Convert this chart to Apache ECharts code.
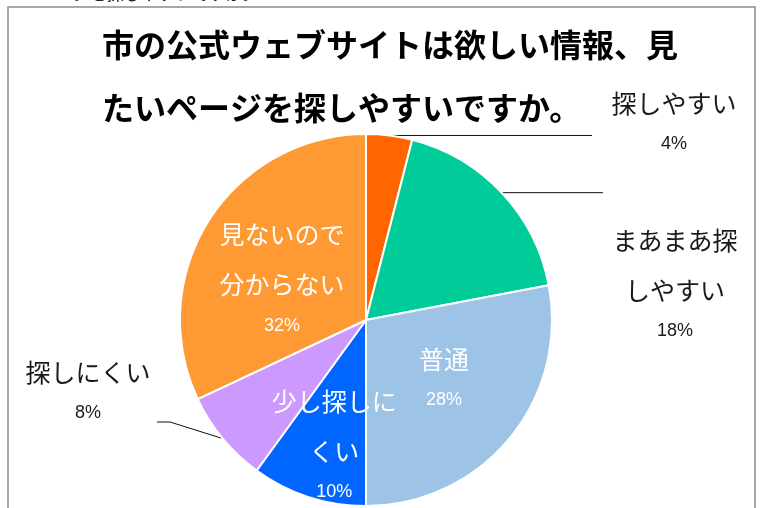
<!DOCTYPE html>
<html>
<head>
<meta charset="utf-8">
<script src="https://cdn.jsdelivr.net/npm/echarts@6/dist/echarts.min.js"></script>
<style>
html, body { margin: 0; padding: 0; background: #fff; }
#chart { width: 765px; height: 508px; }
</style>
</head>
<body>
<div id="chart"></div>
<script>
// 回答の項目と割合(%)
const names = ['探しやすい', 'まあまあ探\nしやすい', '普通', '少し探しに\nくい', '探しにくい', '見ないので\n分からない']
const values = [4, 18, 28, 10, 8, 32]
const colors = ['#FF6600', '#00CC99', '#9DC3E6', '#0066FF', '#CC99FF', '#FF9933']
const insideLabel = [false, false, true, true, false, true]

const jp = '"Noto Sans CJK JP", sans-serif'
const latin = '"Liberation Sans", Arial, sans-serif'

const chart = echarts.init(document.getElementById('chart'))

const data = names.map((n, i) => ({
  name: n,
  value: values[i],
  itemStyle: { color: colors[i] },
  label: insideLabel[i] ? {
    position: 'inside',
    rich: {
      n: { fontFamily: jp, fontSize: 25, color: '#fff', lineHeight: 50 },
      p: { fontFamily: latin, fontSize: 18, color: '#fff', lineHeight: 32 }
    }
  } : {
    position: 'outside',
    rich: {
      n: { fontFamily: jp, fontSize: 25, color: '#1a1a1a', lineHeight: 50 },
      p: { fontFamily: latin, fontSize: 18, color: '#1a1a1a', lineHeight: 32 }
    }
  }
}))

chart.setOption({
  animation: false,
  backgroundColor: '#fff',
  title: {
    text: '市の公式ウェブサイトは欲しい情報、見\nたいページを探しやすいですか。',
    left: 102,
    top: 13,
    padding: 0,
    textStyle: {
      fontFamily: jp,
      fontSize: 32,
      fontWeight: 'bold',
      color: '#000',
      lineHeight: 63
    }
  },
  graphic: [
    {
      type: 'text',
      left: 56,
      top: -15,
      style: { text: 'ージを探しやすいですか。', font: '17px ' + jp, fill: '#222' }
    },
    {
      type: 'polyline',
      shape: { points: [[8, 508], [8, 7], [755, 7], [755, 508]] },
      style: { stroke: '#8c8c8c', lineWidth: 1.5, fill: null }
    }
  ],
  series: [{
    type: 'pie',
    center: [366, 320],
    radius: 186,
    startAngle: 90,
    clockwise: true,
    data: data,
    itemStyle: { borderColor: '#fff', borderWidth: 2 },
    label: {
      formatter: p => p.name.split('\n').map(s => '{n|' + s + '}').join('\n') + '\n{p|' + p.value + '%}',
      align: 'center'
    },
    labelLine: {
      show: true,
      lineStyle: { color: '#111', width: 1 }
    },
    labelLayout: function (params) {
      const i = params.dataIndex
      const p0 = params.labelLinePoints ? params.labelLinePoints[0] : null
      if (i === 0) {
        return { x: 674, y: 78, align: 'center', verticalAlign: 'top',
          labelLinePoints: [p0, [592, p0[1]], [592, p0[1]]] }
      }
      if (i === 1) {
        return { x: 675, y: 215, align: 'center', verticalAlign: 'top',
          labelLinePoints: [p0, [592, p0[1]], [603, p0[1]]] }
      }
      if (i === 4) {
        return { x: 88, y: 347, align: 'center', verticalAlign: 'top',
          labelLinePoints: [p0, [170, 422], [157, 422]] }
      }
      if (i === 2) return { dx: 4, dy: -6 }
      if (i === 3) return { dx: -2, dy: 31 }
      if (i === 5) return { dx: -3, dy: 7 }
    }
  }]
})
</script>
</body>
</html>
